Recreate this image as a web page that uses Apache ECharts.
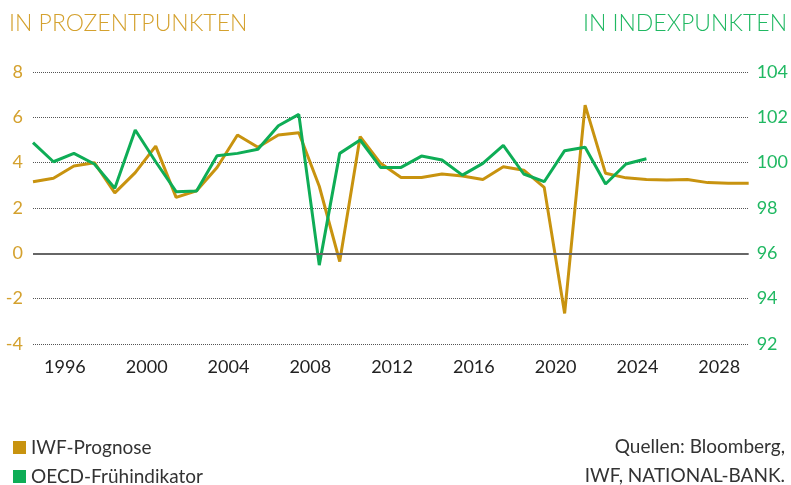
<!DOCTYPE html>
<html>
<head>
<meta charset="UTF-8">
<title>IWF-Prognose und OECD-Frühindikator</title>
<script type="text/javascript" src="https://cdn.jsdelivr.net/npm/echarts@6/dist/echarts.min.js"></script>
<style>
  html, body { margin: 0; padding: 0; background: #fff; }
</style>
</head>
<body>
	<div id="box" style="width: 791px; height: 485px;"></div>

	<script type="text/javascript">
		// Jahre 1994 bis 2029
		var years = [];
		for (var y = 1994; y <= 2029; y++) {
			years.push(String(y));
		}

		// IWF-Prognose, in Prozentpunkten (linke Achse)
		var iwf = [3.16, 3.31, 3.85, 4.0, 2.67, 3.56, 4.73, 2.47, 2.76, 3.79,
			5.22, 4.68, 5.22, 5.32, 2.96, -0.36, 5.15, 3.97, 3.35, 3.35,
			3.5, 3.41, 3.26, 3.82, 3.67, 2.91, -2.65, 6.54, 3.53, 3.33,
			3.26, 3.23, 3.26, 3.12, 3.09, 3.09];

		// OECD-Frühindikator, in Indexpunkten (rechte Achse), bis 2024
		var oecd = [100.88, 100.04, 100.41, 99.94, 98.87, 101.44, 100.04, 98.72, 98.75, 100.31,
			100.41, 100.59, 101.63, 102.13, 95.48, 100.41, 101.0, 99.79, 99.79, 100.29,
			100.12, 99.45, 99.97, 100.76, 99.5, 99.16, 100.53, 100.68, 99.06, 99.94,
			100.17];

		var gold = '#C8930F';
		var green = '#0EAD56';
		var fontName = 'Lato, "Open Sans", sans-serif';

		var legendText = { fontSize : 19, color : '#333', fontFamily : fontName };

		var myChart = echarts.init(document.getElementById('box'));
		myChart.setOption({
			animation : false,
			textStyle : { fontFamily : fontName },
			grid : { left : 33, right : 41, top : 72, bottom : 141 },
			graphic : [
				{ type : 'text', left : 9, top : 12, style : { text : 'IN PROZENTPUNKTEN', fill : '#D4A12E', font : '300 23px ' + fontName } },
				{ type : 'text', right : 4, top : 12, style : { text : 'IN INDEXPUNKTEN', fill : '#20B862', font : '300 23px ' + fontName } },
				{ type : 'text', right : 6, top : 437, style : { text : 'Quellen: Bloomberg,', fill : '#333', font : '19px ' + fontName, align : 'right' } },
				{ type : 'text', right : 6, top : 466, style : { text : 'IWF, NATIONAL-BANK.', fill : '#333', font : '19px ' + fontName, align : 'right' } }
			],
			legend : [ {
				left : 8,
				top : 433,
				itemWidth : 13,
				itemHeight : 13,
				icon : 'rect',
				textStyle : legendText,
				data : [ 'IWF-Prognose' ]
			}, {
				left : 8,
				top : 462,
				itemWidth : 13,
				itemHeight : 13,
				icon : 'rect',
				textStyle : legendText,
				data : [ 'OECD-Frühindikator' ]
			} ],
			xAxis : {
				type : 'category',
				data : years,
				boundaryGap : false,
				axisLine : { show : false },
				axisTick : { show : false },
				axisLabel : {
					color : '#222',
					fontSize : 18,
					margin : 14,
					padding : [ 0, 18, 0, 0 ],
					interval : function(i, v) { return Number(v) % 4 === 0; }
				},
				splitLine : { show : false }
			},
			yAxis : [ {
				type : 'value',
				min : -4,
				max : 8,
				interval : 2,
				axisLine : { show : false },
				axisTick : { show : false },
				axisLabel : { color : '#D4A12E', fontSize : 18, margin : 10 },
				splitLine : { lineStyle : { color : '#555', type : [ 1, 1 ], width : 1 } }
			}, {
				type : 'value',
				min : 92,
				max : 104,
				interval : 2,
				axisLine : { show : false },
				axisTick : { show : false },
				axisLabel : { color : '#20B862', fontSize : 18, margin : 8 },
				splitLine : { show : false }
			} ],
			series : [ {
				name : 'IWF-Prognose',
				type : 'line',
				data : iwf,
				yAxisIndex : 0,
				symbol : 'none',
				color : gold,
				lineStyle : { width : 3, color : gold },
				markLine : {
					silent : true,
					symbol : 'none',
					label : { show : false },
					lineStyle : { color : '#666', type : 'solid', width : 2 },
					data : [ { yAxis : 0 } ]
				},
				z : 3
			}, {
				name : 'OECD-Frühindikator',
				type : 'line',
				data : oecd,
				yAxisIndex : 1,
				symbol : 'none',
				color : green,
				lineStyle : { width : 3, color : green },
				z : 4
			} ]
		});
	</script>

</body>
</html>
